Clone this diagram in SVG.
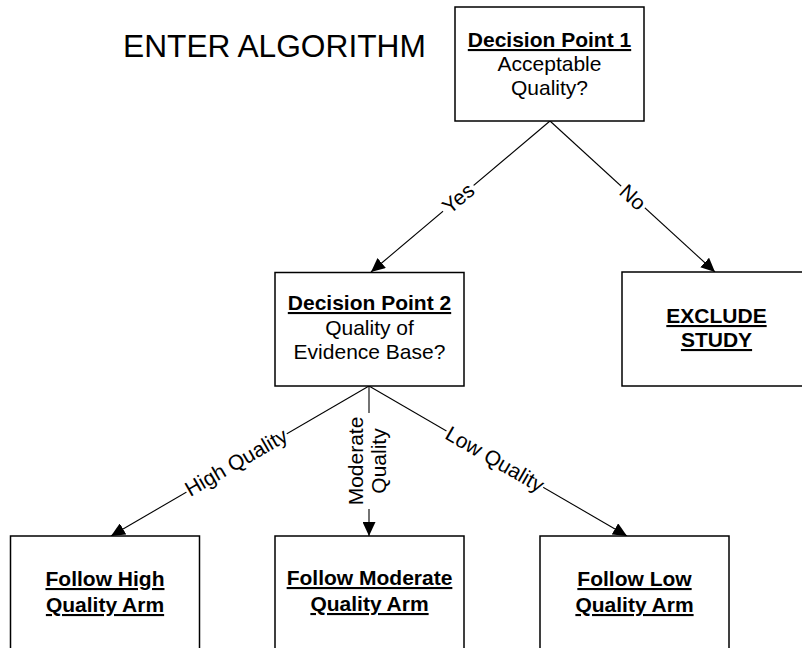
<svg xmlns="http://www.w3.org/2000/svg" width="802" height="648" viewBox="0 0 802 648">
<style>
  text { font-family: "Liberation Sans", Arial, sans-serif; fill: #000; }
  .box { fill: #fff; stroke: #000; stroke-width: 1.5; }
  .t { font-size: 21px; text-anchor: middle; }
  .b { font-weight: bold; text-decoration: underline; }
  .conn { stroke: #000; stroke-width: 1.1; fill: none; marker-end: url(#arr); }
  .lbl { font-size: 21px; text-anchor: middle; }
  .bg { fill: #fff; stroke: none; }
</style>
<defs>
  <marker id="arr" markerUnits="userSpaceOnUse" markerWidth="15" markerHeight="13" refX="14" refY="6.5" orient="auto">
    <path d="M0,0 L14,6.5 L0,13 z" fill="#000"/>
  </marker>
</defs>
<rect width="802" height="648" fill="#fff"/>
<text x="123" y="57" style="font-size:31.7px">ENTER ALGORITHM</text>

<g id="connectors">
  <line class="conn" x1="550" y1="121" x2="371" y2="272"/>
  <line class="conn" x1="550" y1="121" x2="715" y2="272"/>
  <line class="conn" x1="369" y1="386" x2="111" y2="536"/>
  <line class="conn" x1="369" y1="386" x2="369" y2="536"/>
  <line class="conn" x1="369" y1="386" x2="627" y2="536"/>
  <g transform="translate(458,198) rotate(-40)">
    <rect class="bg" x="-20" y="-10" width="40" height="21"/>
    <text class="lbl" x="0" y="7.5">Yes</text>
  </g>
  <g transform="translate(633,197) rotate(42.5)">
    <rect class="bg" x="-16" y="-10" width="32" height="21"/>
    <text class="lbl" x="0" y="7.5">No</text>
  </g>
  <g transform="translate(236,462) rotate(-30)">
    <rect class="bg" x="-58" y="-10" width="116" height="21"/>
    <text class="lbl" x="0" y="7.5">High Quality</text>
  </g>
  <g transform="translate(495,459) rotate(30)">
    <rect class="bg" x="-56" y="-10" width="112" height="21"/>
    <text class="lbl" x="0" y="7.5">Low Quality</text>
  </g>
  <g transform="translate(369,461) rotate(-90)">
    <rect class="bg" x="-48" y="-22" width="96" height="44"/>
    <text class="lbl" x="0" y="-6">Moderate</text>
    <text class="lbl" x="0" y="17">Quality</text>
  </g>
</g>

<g id="dp1">
  <rect class="box" x="455" y="7" width="189" height="114"/>
  <text class="t b" x="549.5" y="47">Decision Point 1</text>
  <text class="t" x="549.5" y="71">Acceptable</text>
  <text class="t" x="549.5" y="95">Quality?</text>
</g>

<g id="dp2">
  <rect class="box" x="275" y="272.5" width="189" height="113.5"/>
  <text class="t b" x="369.5" y="310">Decision Point 2</text>
  <text class="t" x="369.5" y="335">Quality of</text>
  <text class="t" x="369.5" y="359">Evidence Base?</text>
</g>

<g id="exclude">
  <rect class="box" x="622" y="272" width="190" height="114"/>
  <text class="t b" x="716.5" y="323">EXCLUDE</text>
  <text class="t b" x="716.5" y="347">STUDY</text>
</g>

<g id="high">
  <rect class="box" x="10.5" y="536" width="189" height="120"/>
  <text class="t b" x="105" y="586">Follow High</text>
  <text class="t b" x="105" y="612">Quality Arm</text>
</g>

<g id="moderate">
  <rect class="box" x="275" y="536" width="189" height="120"/>
  <text class="t b" x="369.5" y="585">Follow Moderate</text>
  <text class="t b" x="369.5" y="611">Quality Arm</text>
</g>

<g id="low">
  <rect class="box" x="540" y="536" width="189" height="120"/>
  <text class="t b" x="634.5" y="586">Follow Low</text>
  <text class="t b" x="634.5" y="612">Quality Arm</text>
</g>
</svg>
